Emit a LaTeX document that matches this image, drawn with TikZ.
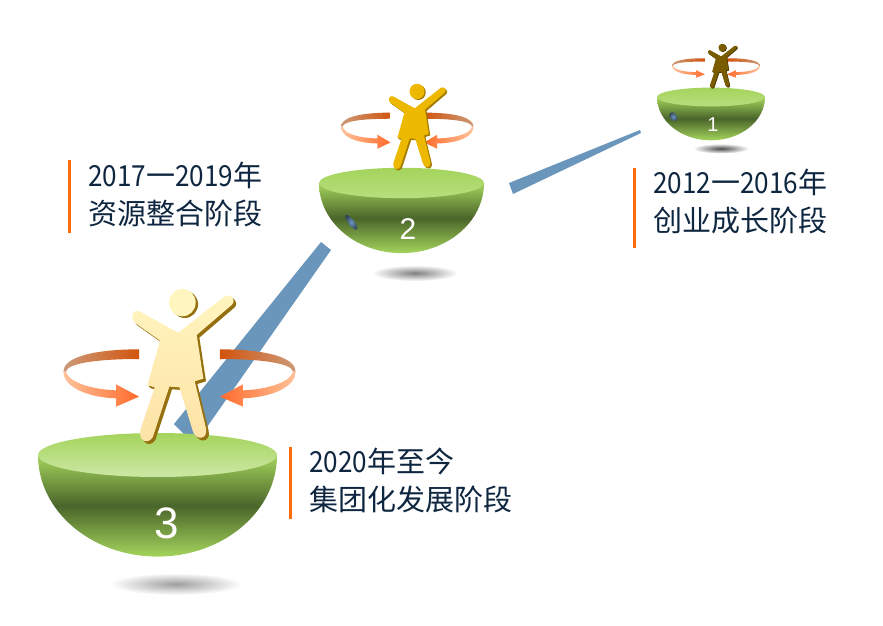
\documentclass[tikz,border=0pt]{standalone}
\usepackage{fontspec}
\usepackage{tikz}
\setmainfont{Liberation Sans}
\newfontfamily\cjk{Noto Sans CJK SC}
\newfontfamily\cjkdigit[FakeStretch=0.9]{Noto Sans CJK SC}
\newcommand{\yr}[1]{{\cjkdigit #1}}
\definecolor{bowl light}{HTML}{A4D45C}
\definecolor{bowl dark}{HTML}{4A652A}
\definecolor{beam blue}{HTML}{6A96BB}
\definecolor{bar orange}{HTML}{FF6A0A}
\definecolor{label navy}{HTML}{0F2640}
\definecolor{ringtan}{HTML}{CC9A78}
\definecolor{ringdark}{HTML}{D2540E}
\definecolor{ringpeach}{HTML}{FFC39B}
\definecolor{ringhot}{HTML}{FF6A2B}
\definecolor{girl cream}{HTML}{FFF5BE}
\definecolor{girl sand}{HTML}{FDE2A6}
\definecolor{girl bronze}{HTML}{94700F}
\definecolor{girl gold}{HTML}{EDB900}
\definecolor{girl ochre}{HTML}{A37C00}
\definecolor{girl brown}{HTML}{7A5C00}
\definecolor{girl umber}{HTML}{4C3A00}
\newcommand{\girlshape}{(445,158) -- (585,48) .. controls (600,40) and (620,58) .. (606,74)
  -- (500,165) -- (520,296) -- (494,304) -- (528,445) .. controls (534,480) and (498,482) .. (489,455)
  -- (448,322) -- (418,320) -- (368,472) .. controls (352,496) and (322,482) .. (332,447)
  -- (374,322) -- (352,316) -- (390,182) -- (314,128) .. controls (300,115) and (306,86) .. (328,94)
  -- (425,148) -- cycle}
\tikzset{
% Bowl, ring and figure, each drawn about its own centre
pics/bowl/.style={code={
  \shade[top color=bowl light,bottom color=bowl light,middle color=bowl dark]
    (-100,0) arc[start angle=180,end angle=360,x radius=100,y radius=85] -- cycle;
  \shade[top color=bowl light,bottom color=#1] (0,0) ellipse (100 and 18.4);
}},
pics/ring/.style={code={
  \foreach \mirror/\colA/\colB/\colC/\colD in
    {1/ringtan/ringdark/ringpeach/ringhot,-1/ringdark/ringtan/ringhot/ringpeach}{
    \begin{scope}[xscale=\mirror,x=.3333pt,y=-.3333pt,shift={(-448.5,-294)}]
    \shade[left color=\colA,right color=\colB]
      (327+#1,208) .. controls (180,208) and (100,235) .. (100,275) -- (108,275)
      .. controls (112,250) and (200,237) .. (327+#1,237) -- cycle;
    \shade[left color=\colC,right color=\colD]
      (100,275) .. controls (100,320) and (170,352) .. (258+#1,355) -- (258+#1,380)
      -- (327+#1,350) -- (258+#1,313) -- (258+#1,331)
      .. controls (180,328) and (115,305) .. (108,275) -- cycle;
    \end{scope}
  }
}},
pics/girl/.style n args={3}{code={
  \begin{scope}[x=.3333pt,y=-.3333pt,shift={(-464,-257.5)}]
  \fill[#3,shift={(4,4)}] \girlshape;
  \fill[#3,shift={(8,8)}] \girlshape;
  \fill[#3] (464,73) ellipse (40 and 41);
  \shade[top color=#1,bottom color=#2] \girlshape;
  \fill[#1] (457,68) ellipse (40 and 41);
  \end{scope}
}},
beam/.style={fill=beam blue},
spot/.style={inner color=beam blue,outer color=beam blue!45!black},
drop shade/.style={outer color=white},
stage num/.style={text=white,inner sep=0},
stage label/.style={font=\cjk\fontsize{29}{38}\selectfont,text=label navy,align=left,anchor=west,inner sep=0},
stage bar/.style={draw=bar orange,line width=3pt}
}
\begin{document}
\begin{tikzpicture}[x=1pt,y=1pt]
\useasboundingbox (0,0) rectangle (883,625);

% beams behind the bowls
\fill[beam] (321,383) -- (331,375) -- (207,198) -- (195,180) -- (174,201) -- cycle;
\fill[beam] (509,442) -- (513,431) -- (641,492) -- (640,495) -- cycle;

% shadows
\shade[drop shade,inner color=black!38] (176,41) ellipse (66 and 11);
\shade[drop shade,inner color=black!50] (415,352) ellipse (43 and 8);
\shade[drop shade,inner color=black!70] (721,476.5) ellipse (28 and 5);

% stage 3
\pic[scale=1.195] at (157.5,170) {bowl={bowl light!55!white}};
\pic at (179.5,247) {ring=0};
\pic at (184.7,259.2) {girl={girl cream}{girl sand}{girl bronze}};
\node[stage num,font=\fontsize{44}{44}\selectfont] (num3) at (167,102) {3};

% stage 2
\pic[scale=.825] at (401.5,442) {bowl={bowl light!78!white}};
\pic[xscale=.57,yscale=.63] at (407.3,494.3) {ring=33};
\pic[scale=.56] at (418.3,498.2) {girl={girl gold}{girl gold}{girl ochre}};
\shade[spot,rotate around={-52:(351.3,402.7)}] (351.3,402.7) ellipse (9 and 3);
\node[stage num,font=\fontsize{30}{30}\selectfont] (num2) at (408,396) {2};

% stage 1
\pic[xscale=.54,yscale=.51] at (711,528) {bowl={bowl light!78!white}};
\pic[xscale=.38,yscale=.34] at (716,557) {ring=33};
\pic[scale=.29] at (723,559) {girl={girl brown}{girl brown}{girl umber}};
\shade[spot,rotate around={-50:(673.3,508.3)}] (673.3,508.3) ellipse (5 and 3.5);
\node[stage num,font=\fontsize{20}{20}\selectfont] (num1) at (713,500) {1};

% labels with their bars
\node[stage label] (label1) at (653,423) {\yr{2012}一\yr{2016}年\\创业成长阶段};
\node[stage label] (label2) at (88,431) {\yr{2017}一\yr{2019}年\\资源整合阶段};
\node[stage label] (label3) at (309,145) {\yr{2020}年至今\\集团化发展阶段};
\draw[stage bar] ([shift={(-19,34)}]label1.west) -- ([shift={(-19,-46)}]label1.west);
\draw[stage bar] ([shift={(-19,34)}]label2.west) -- ([shift={(-19,-39)}]label2.west);
\draw[stage bar] ([shift={(-19,33)}]label3.west) -- ([shift={(-19,-39)}]label3.west);
\end{tikzpicture}
\end{document}
